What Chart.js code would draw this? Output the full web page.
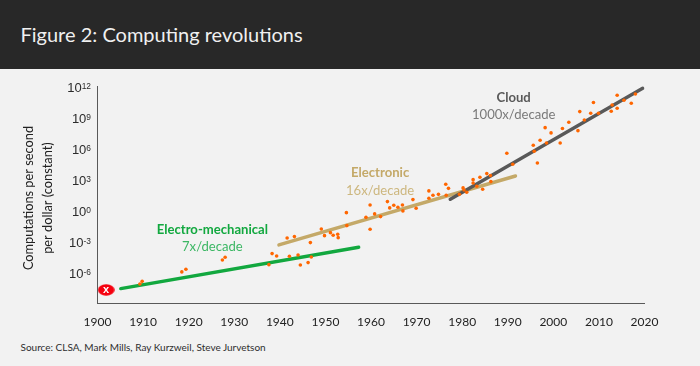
<!DOCTYPE html>
<html>
<head>
<meta charset="utf-8">
<script src="https://cdn.jsdelivr.net/npm/chart.js@4"></script>
<style>
html,body{margin:0;padding:0;background:#f2f2f2;}
#wrap{position:relative;width:700px;height:366px;overflow:hidden;background:#f2f2f2;}
#head{position:absolute;left:0;top:0;width:700px;height:68.5px;background:#282828;}
#title{position:absolute;left:20.5px;top:19.5px;color:#f0f0f0;font:20px Lato,sans-serif;line-height:28px;white-space:nowrap;}
#source{position:absolute;left:20.5px;top:340px;color:#2e2e2e;font:10px Lato,sans-serif;line-height:14px;white-space:nowrap;}
canvas{position:absolute;left:0;top:0;}
</style>
</head>
<body>
<div id="wrap">
<div id="head"></div>
<div id="title">Figure 2: Computing revolutions</div>
<div id="source">Source: CLSA, Mark Mills, Ray Kurzweil, Steve Jurvetson</div>
<canvas id="c" width="700" height="366"></canvas>
</div>
<script>
const pointYears = [1909.3,1909.8,1918.5,1919.4,1927.4,1928.0,1937.6,1938.3,1939.3,1941.6,1943.2,1942.1,1944.0,1944.5,1946.2,1946.9,1946.7,1949.1,1949.8,1951.1,1951.7,1952.7,1952.8,1954.6,1954.7,1958.9,1959.8,1959.8,1960.8,1962.1,1963.6,1964.1,1965.0,1965.9,1966.9,1967.0,1969.2,1969.9,1972.7,1972.7,1973.6,1974.8,1976.4,1977.0,1976.5,1979.4,1980.2,1980.4,1981.0,1982.4,1982.4,1983.2,1983.9,1984.5,1985.4,1986.2,1986.3,1989.8,1991.1,1995.6,1995.8,1996.5,1997.1,1998.2,1998.5,1999.5,2001.5,2002.0,2003.4,2005.4,2005.8,2006.8,2008.2,2008.8,2009.9,2012.7,2012.9,2014.0,2014.0,2015.5,2017.1,2018.0];
const pointExponents = [-7.11,-6.86,-5.95,-5.70,-4.80,-4.54,-5.25,-4.18,-4.41,-2.67,-2.54,-4.44,-4.31,-5.28,-5.05,-4.51,-3.12,-1.80,-2.45,-2.16,-2.41,-2.32,-2.64,-0.23,-1.48,-0.68,0.51,-1.83,-0.35,-0.61,0.84,0.23,0.48,0.29,0.51,-0.06,1.03,0.19,1.87,1.16,1.45,1.54,2.51,2.12,1.45,1.54,2.16,1.96,1.74,2.96,2.64,2.32,3.19,2.03,3.54,3.35,2.77,5.5,4.44,6.28,5.70,4.57,6.76,7.98,6.5,7.47,6.5,7.89,8.5,7.69,9.53,8.72,9.37,10.4,9.37,9.56,10.17,11.1,9.85,10.62,10.33,11.23];
const electroMechYears = [1905.1,1957.3];
const electroMechExponents = [-7.56,-3.57];
const electronicYears = [1939.8,1991.7];
const electronicExponents = [-3.35,3.31];
const cloudYears = [1977.4,2019.6];
const cloudExponents = [1.06,11.78];
const markerYears = [1901.9];
const markerExponents = [-7.69];
const yTickExponents = [-9,-6,-3,0,3,6,9,12];
const yTickBase = '10';
const yHiddenExponent = -9;
const yAxisTitle = ['Computations per second  ','per dollar (constant)  '];
const noteTexts = ['Electro-mechanical','7x/decade','Electronic','16x/decade','Cloud','1000x/decade','x'];
const noteYears = [1925.2,1925.2,1962.0,1962.0,1991.3,1991.3,1901.9];
const noteExponents = [-1.9,-3.55,3.6,1.93,10.84,9.2,-7.72];
const noteColors = ['#12a83f','#3cb764','#c4a968','#cdb77f','#595959','#7a7a7a','#ffffff'];
const noteBold = [true,false,true,false,true,false,true];
const noteSizes = [13.1,13.1,13.1,13.1,13.1,13.1,11];

const pairs = (xs, es) => xs.map((x,i) => ({x, y: Math.pow(10, es[i])}));

const marker = document.createElement('canvas');
marker.width = 17; marker.height = 12;
(function(){
  const m = marker.getContext('2d');
  m.fillStyle = '#f5000f';
  m.beginPath(); m.ellipse(8.5,6,8.3,5.8,0,0,Math.PI*2); m.fill();
})();

const notes = {
  id: 'notes',
  afterDatasetsDraw(chart){
    const {ctx, scales:{x, y}} = chart;
    ctx.save();
    ctx.textAlign = 'center';
    ctx.textBaseline = 'middle';
    noteTexts.forEach((t,i) => {
      ctx.font = (noteBold[i] ? 'bold ' : '') + noteSizes[i] + 'px ' + (t === 'x' ? '"Liberation Sans"' : 'Lato') + ', sans-serif';
      ctx.fillStyle = noteColors[i];
      ctx.fillText(t, x.getPixelForValue(noteYears[i]), y.getPixelForValue(Math.pow(10, noteExponents[i])));
    });
    ctx.restore();
  }
};

const yPowers = {
  id: 'yPowers',
  afterDraw(chart){
    const {ctx, scales:{y}} = chart;
    ctx.save();
    ctx.fillStyle = '#2b2b2b';
    ctx.textBaseline = 'alphabetic';
    ctx.textAlign = 'right';
    const right = y.right - 6.5;
    y.ticks.forEach(t => {
      const e = Math.round(Math.log10(t.value));
      if (e === yHiddenExponent) return;
      const py = y.getPixelForValue(t.value);
      const exp = String(e);
      ctx.font = '8.4px "Liberation Sans", sans-serif';
      const w = ctx.measureText(exp).width;
      ctx.fillText(exp, right, py + 2.6);
      ctx.font = '13px "Liberation Sans", sans-serif';
      ctx.fillText(yTickBase, right - w, py + 6);
    });
    ctx.restore();
  }
};

const line = (label, xs, es, color) => ({
  label, type:'scatter', showLine:true, data:pairs(xs, es),
  borderColor:color, backgroundColor:color, borderWidth:3.4, pointRadius:0, pointHoverRadius:0, borderCapStyle:'round'
});

new Chart(document.getElementById('c'), {
  type:'scatter',
  data:{datasets:[
    {label:'Marker', data:pairs(markerYears, markerExponents), pointStyle:marker, pointRadius:8},
    {label:'Observations', data:pairs(pointYears, pointExponents), backgroundColor:'#ff6600', borderColor:'#ff6600', pointRadius:1.8, pointBorderWidth:0},
    line('Cloud', cloudYears, cloudExponents, '#595959'),
    line('Electronic', electronicYears, electronicExponents, '#c4a968'),
    line('Electro-mechanical', electroMechYears, electroMechExponents, '#12a83f')
  ]},
  options:{
    responsive:false, animation:false, events:[],
    layout:{padding:{top:86,right:55.5,left:0,bottom:0}},
    plugins:{legend:{display:false},tooltip:{enabled:false},title:{display:false}},
    scales:{
      x:{
        type:'linear', min:1900, max:2020,
        grid:{display:false, drawTicks:true, tickLength:4, tickColor:'#595959', drawOnChartArea:false},
        border:{color:'#595959', width:1},
        ticks:{stepSize:10, maxRotation:0, padding:7, color:'#222222', font:{family:'Lato, sans-serif', size:12}, callback:v=>String(v)},
        afterFit(s){ s.height = 62.5; }
      },
      y:{
        type:'logarithmic', min:1e-9, max:1e12,
        grid:{display:false, drawTicks:true, tickLength:3, tickColor:'#595959', drawOnChartArea:false},
        border:{color:'#595959', width:1},
        afterBuildTicks(s){ s.ticks = yTickExponents.map(e => ({value:Math.pow(10,e), major:true})); },
        ticks:{display:false},
        title:{display:true, text:yAxisTitle, color:'#222222', font:{family:'Lato, sans-serif', size:12.8, lineHeight:1.48}, padding:{top:19,bottom:0}},
        afterFit(s){ s.width = 97.5; }
      }
    }
  },
  plugins:[notes, yPowers]
});
</script>
</body>
</html>
